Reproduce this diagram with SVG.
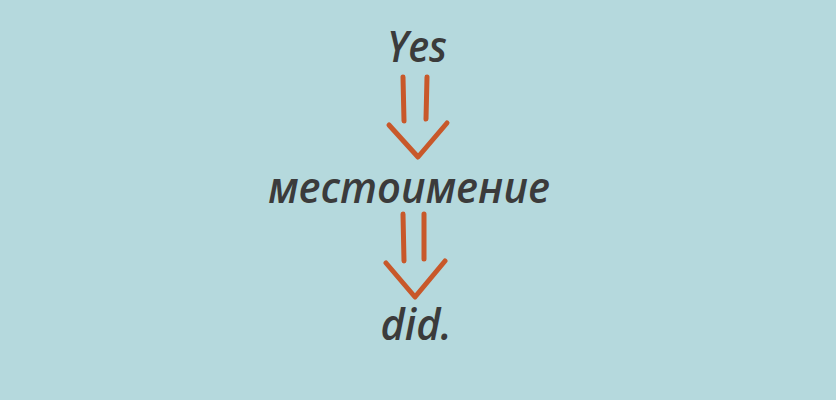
<svg xmlns="http://www.w3.org/2000/svg" width="836" height="400" viewBox="0 0 836 400">
<style>
.t{font-family:"Open Sans","DejaVu Sans",sans-serif;font-style:italic;font-weight:600;font-size:44px;fill:#3b3b3b;text-anchor:middle}
.a{fill:none;stroke:#c8582a;stroke-width:5;stroke-linecap:round;stroke-linejoin:round}
</style>
<rect width="836" height="400" fill="#b5d9dd"/>
<g id="node-yes"><text class="t" x="417" y="62" textLength="60" lengthAdjust="spacingAndGlyphs">Yes</text></g>
<g id="node-mestoimenie"><text class="t" x="409" y="203" font-size="47" textLength="282" lengthAdjust="spacingAndGlyphs">местоимение</text></g>
<g id="node-did"><text class="t" x="416" y="340" textLength="71" lengthAdjust="spacingAndGlyphs">did.</text></g>
<g id="connectors">
<path class="a" d="M403 77 L404 121 M427 77 L426 119 M389 125 L418 157 L447 123"/>
<path class="a" d="M403 214 L404 261 M424 214 L424 259 M386 263 L415 297 L445 261"/>
</g>
</svg>
